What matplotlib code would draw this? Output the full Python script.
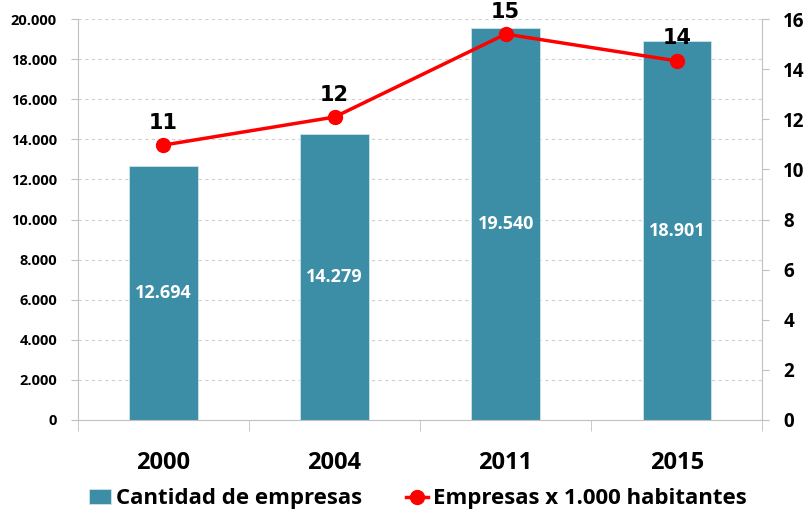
import matplotlib.pyplot as plt
from matplotlib.ticker import FuncFormatter, MultipleLocator

# datos
anios = ['2000', '2004', '2011', '2015']
empresas = [12694, 14279, 19540, 18901]
por_mil = [10.97, 12.09, 15.4, 14.33]
etiquetas_linea = ['11', '12', '15', '14']

color_barra = '#3B8EA5'
fuente = 'Open Sans'

fig = plt.figure(figsize=(8.11, 5.15), dpi=100)
ax = fig.add_axes([0.096, 0.1845, 0.844, 0.7785])
ax2 = ax.twinx()

x = range(len(anios))
barras = ax.bar(x, empresas, width=0.4, color=color_barra, edgecolor='#cfe3ea',
                linewidth=0.6, label='Cantidad de empresas', zorder=2)
for xi, v in zip(x, empresas):
    ax.text(xi, v / 2, f'{v:,}'.replace(',', '.'), ha='center', va='center',
            color='white', fontsize=13, fontweight='bold', family=fuente)

linea, = ax2.plot(x, por_mil, color='#ff0000', lw=2.5, marker='o', ms=10,
                  label='Empresas x 1.000 habitantes', zorder=3)
for xi, v, t in zip(x, por_mil, etiquetas_linea):
    ax2.annotate(t, (xi, v), xytext=(0, 9), textcoords='offset points',
                 ha='center', va='bottom', fontsize=15, fontweight='bold',
                 family='DejaVu Sans', clip_on=False)

ax.set_xlim(-0.5, 3.5)
ax.set_ylim(0, 20000)
ax2.set_ylim(0, 16)
ax.yaxis.set_major_locator(MultipleLocator(2000))
ax2.yaxis.set_major_locator(MultipleLocator(2))
ax.yaxis.set_major_formatter(FuncFormatter(lambda v, p: f'{int(v):,}'.replace(',', '.')))

ax.grid(axis='y', color='#d0d0d0', linestyle=(0, (3, 3)), lw=0.8, zorder=0)
ax.set_axisbelow(True)
ax.set_xticks(list(x))
ax.set_xticklabels(anios, fontsize=17, fontweight='bold', family=fuente)
ax.set_xticks([-0.5, 0.5, 1.5, 2.5, 3.5], minor=True)
ax.tick_params(axis='x', which='major', length=0, pad=22)
ax.tick_params(axis='x', which='minor', length=8, color='#c0c0c0')

for a in (ax, ax2):
    for s in a.spines.values():
        s.set_visible(False)
ax.spines['left'].set_visible(True)
ax.spines['left'].set_color('#c0c0c0')
ax.spines['bottom'].set_visible(True)
ax.spines['bottom'].set_color('#c0c0c0')
ax2.spines['right'].set_visible(True)
ax2.spines['right'].set_color('#c0c0c0')

ax.tick_params(axis='y', length=5, color='#c0c0c0', pad=10)
ax2.tick_params(axis='y', length=5, color='#c0c0c0', pad=10)
for lab in ax.get_yticklabels():
    lab.set_fontsize(10.5)
    lab.set_fontweight('bold')
    lab.set_family(fuente)
for lab in ax2.get_yticklabels():
    lab.set_fontsize(13.5)
    lab.set_fontweight('bold')
    lab.set_family(fuente)

fig.legend([barras, linea], ['Cantidad de empresas', 'Empresas x 1.000 habitantes'],
           loc='lower center', bbox_to_anchor=(0.515, -0.028), ncol=2, frameon=False,
           prop={'family': fuente, 'weight': 'bold', 'size': 16},
           handlelength=1.0, handletextpad=0.2, columnspacing=2.0)

fig.savefig('out.png', dpi=100)
